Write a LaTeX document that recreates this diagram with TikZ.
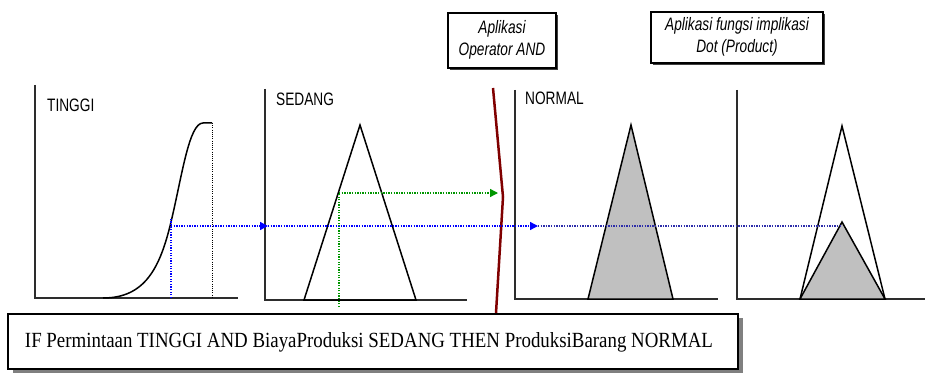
\documentclass[tikz,border=0pt]{standalone}
\usepackage{fontspec}
\setmainfont{Liberation Serif}
\setsansfont{Liberation Sans}
\usetikzlibrary{arrows.meta,shadows}

\definecolor{axisgray}{RGB}{45,45,45}
\definecolor{cutred}{RGB}{128,0,0}
\definecolor{fillgray}{RGB}{192,192,192}
\definecolor{probeblue}{RGB}{0,0,255}
\definecolor{probenavy}{RGB}{45,45,170}
\definecolor{probegreen}{RGB}{0,150,0}

% condensed sans used for set names and notes
\newcommand\narrowsans[1]{\scalebox{0.76}[1]{\fontsize{18}{22}\selectfont\sffamily #1}}

\begin{document}
\begin{tikzpicture}[x=1pt,y=-1pt,
  axis/.style={draw=axisgray,line width=1.5pt},
  mf/.style={draw=black,line width=1.5pt,line join=miter},
  guide/.style={line width=1.3pt,dash pattern=on 1.3pt off 1.3pt},
  tip/.style={-{Triangle[length=8pt,width=8pt]}},
  setlabel/.style={anchor=base west,inner sep=0pt},
  notebox/.style={draw=black,line width=1.2pt,fill=white,inner sep=0pt,
     drop shadow={shadow xshift=2pt,shadow yshift=-2pt,fill=black!75,opacity=1}},
  rulebox/.style={draw=black,line width=1.2pt,fill=white,inner sep=0pt,
     drop shadow={shadow xshift=5pt,shadow yshift=-4pt,fill=black!50,opacity=1}},
]
\fill[white] (0,0) rectangle (928,374);
\useasboundingbox (0,0) rectangle (928,374);

% ---- axes of the four membership plots
\draw[axis] (35,85) -- (35,298) -- (238,298);
\draw[axis] (265,89) -- (265,300) -- (467,300);
\draw[axis] (515,90) -- (515,299) -- (718,299);
\draw[axis] (737,90) -- (737,299) -- (925,299);

% ---- set names
\node[setlabel] (tinggi) at (47,112) {\narrowsans{TINGGI}};
\node[setlabel] (sedang) at (276,106) {\narrowsans{SEDANG}};
\node[setlabel] (normal) at (525,105) {\narrowsans{NORMAL}};

% ---- TINGGI: rising S-curve
\draw[black,line width=1.5pt] (103,298) .. controls (145,298) and (160,268) .. (171,222)
   .. controls (182,176) and (189,123) .. (203,123) -- (212,123);
\coordinate (topT) at (212,123);
\coordinate (footT) at (212,298);
\draw[black,line width=1pt,dash pattern=on 1pt off 1.2pt] (topT) -- (footT);

% ---- SEDANG: triangle
\draw[mf] (304,300) -- (360,125) -- (416,300) -- cycle;

% ---- NORMAL: triangle, filled
\filldraw[mf,fill=fillgray] (588,299) -- (631,125) -- (673,299) -- cycle;

% ---- implied output: full triangle and scaled triangle
\draw[mf] (800,299) -- (842,126) -- (885,299);
\filldraw[mf,fill=fillgray] (800,299) -- (842,222) -- (885,299) -- cycle;

% ---- AND operator divider
\coordinate (cutTop) at (493,88);
\coordinate (cutMid) at (503,197);
\coordinate (cutBot) at (496,313);
\draw[cutred,line width=2.5pt,line join=miter] (cutTop) -- (cutMid) -- (cutBot);

% ---- membership degree of TINGGI (blue)
\coordinate (footB) at (171,298);
\coordinate (hitB) at (171,218);
\coordinate (startB) at (171,226);
\coordinate (axS) at (268,226);
\coordinate (axN) at (538,226);
\coordinate (apex) at (842,226);
\draw[guide,probeblue] (footB) -- (hitB);
\draw[guide,probeblue,tip] (startB) -- (axS);
\draw[guide,probeblue,tip] (axS) -- (axN);
\draw[guide,probenavy] (axN) -- (apex);

% ---- membership degree of SEDANG (green)
\coordinate (footG) at (339,307);
\coordinate (hitG) at (339,193);
\coordinate (endG) at (498,193);
\draw[guide,probegreen] (footG) -- (hitG);
\draw[guide,probegreen,tip] (hitG) -- (endG);

% ---- notes
\node[notebox,minimum width=108pt,minimum height=55pt] (andnote) at (502,40.5)
  {\narrowsans{\itshape\begin{tabular}{@{}c@{}}Aplikasi\\Operator AND\end{tabular}}};
\node[notebox,minimum width=172pt,minimum height=51pt] (dotnote) at (737,37.5)
  {\narrowsans{\itshape\begin{tabular}{@{}c@{}}Aplikasi fungsi implikasi\\Dot (Product)\end{tabular}}};

% ---- rule statement
\node[rulebox,minimum width=730pt,minimum height=55pt] (rule) at (373,341.5) {};
\node[anchor=base,inner sep=0pt] (ruletext) at (369,347)
  {\resizebox{688pt}{15pt}{IF Permintaan TINGGI AND BiayaProduksi SEDANG THEN ProduksiBarang NORMAL}};
\end{tikzpicture}
\end{document}
